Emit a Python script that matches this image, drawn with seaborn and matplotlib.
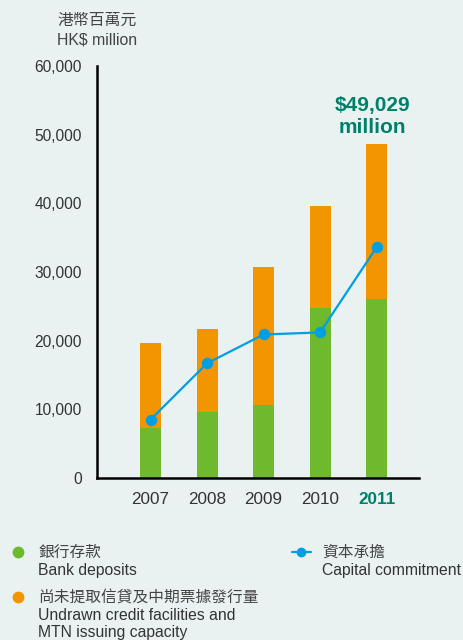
import matplotlib
matplotlib.use("Agg")
import matplotlib.pyplot as plt
from matplotlib.lines import Line2D
import seaborn as sns
import pandas as pd

years = ["2007", "2008", "2009", "2010", "2011"]
bank_deposits = [7300, 9650, 10700, 24800, 26000]
total_liquidity = [19700, 21700, 30800, 39600, 48600]
capital_commitment = [8500, 16700, 20900, 21200, 33600]
y_ticks = [0, 10000, 20000, 30000, 40000, 50000, 60000]

BG = "#E9F2F1"
GREEN = "#6FB92E"
ORANGE = "#F39500"
BLUE = "#009FE3"
TEAL = "#00806A"
TXT = "#333333"

sns.set_theme(style="white")
plt.rcParams["font.family"] = ["Liberation Sans", "Noto Sans CJK TC", "DejaVu Sans"]

df = pd.DataFrame({"year": years, "bank": bank_deposits, "total": total_liquidity,
                   "capital": capital_commitment})

fig = plt.figure(figsize=(4.64, 6.4), dpi=100, facecolor=BG)
ax = fig.add_axes([97 / 464, 1 - 478 / 640, (419 - 97) / 464, (478 - 66) / 640])
ax.set_facecolor(BG)

sns.barplot(data=df, x="year", y="total", color=ORANGE, width=0.37, saturation=1,
            linewidth=0, edgecolor="none", ax=ax)
sns.barplot(data=df, x="year", y="bank", color=GREEN, width=0.37, saturation=1,
            linewidth=0, edgecolor="none", ax=ax)
sns.pointplot(data=df, x="year", y="capital", color=BLUE, markers="o", markersize=7,
              linewidth=1.6, ax=ax)

ax.set_xlim(-0.947, 4.75)
ax.set_ylim(0, 60000)
ax.set_yticks(y_ticks)
ax.set_yticklabels([f"{v:,}" for v in y_ticks], fontsize=11.2, color=TXT)
ax.set_xticks(range(len(years)))
ax.set_xticklabels(years, fontsize=12.3, color=TXT)
lbl = ax.get_xticklabels()[-1]
lbl.set_color(TEAL)
lbl.set_fontweight("bold")
ax.tick_params(axis="y", length=0, pad=11)
ax.tick_params(axis="x", length=0, pad=10)
ax.set_xlabel("")
ax.set_ylabel("")
for s in ["top", "right"]:
    ax.spines[s].set_visible(False)
for s in ["left", "bottom"]:
    ax.spines[s].set_color("black")
    ax.spines[s].set_linewidth(1.8)

ax.annotate("$49,029\nmillion", xy=(4, total_liquidity[-1]), xytext=(-3, 5),
            textcoords="offset points", ha="center", va="bottom", fontsize=15,
            fontweight="bold", color=TEAL, linespacing=1.25)

fig.text(57 / 464, 1 - 20 / 640, "港幣百萬元", fontsize=11.4, color="#444444", va="center")
fig.text(57 / 464, 1 - 40 / 640, "HK$ million", fontsize=11.4, color="#444444", va="center")

# legend
def fy(p):
    return 1 - p / 640

LFS = 11.3
fig.add_artist(Line2D([18 / 464], [fy(552)], marker="o", markersize=7.5, color=GREEN,
                      linestyle="none", transform=fig.transFigure))
fig.text(38 / 464, fy(552), "銀行存款", fontsize=LFS, color="#444444", va="center")
fig.text(38 / 464, fy(571), "Bank deposits", fontsize=LFS, color="#333333", va="center")
fig.add_artist(Line2D([18 / 464], [fy(597)], marker="o", markersize=7.5, color=ORANGE,
                      linestyle="none", transform=fig.transFigure))
fig.text(38 / 464, fy(597), "尚未提取信貸及中期票據發行量", fontsize=LFS, color="#444444", va="center")
fig.text(38 / 464, fy(616), "Undrawn credit facilities and", fontsize=LFS, color="#333333", va="center")
fig.text(38 / 464, fy(633), "MTN issuing capacity", fontsize=LFS, color="#333333", va="center")
fig.add_artist(Line2D([292 / 464, 311 / 464], [fy(552), fy(552)], color=BLUE, linewidth=1.6,
                      transform=fig.transFigure))
fig.add_artist(Line2D([301.5 / 464], [fy(552)], marker="o", markersize=6, color=BLUE,
                      linestyle="none", transform=fig.transFigure))
fig.text(322 / 464, fy(552), "資本承擔", fontsize=LFS, color="#444444", va="center")
fig.text(322 / 464, fy(571), "Capital commitment", fontsize=LFS, color="#333333", va="center")

fig.savefig("out.png", dpi=100, facecolor=BG)
